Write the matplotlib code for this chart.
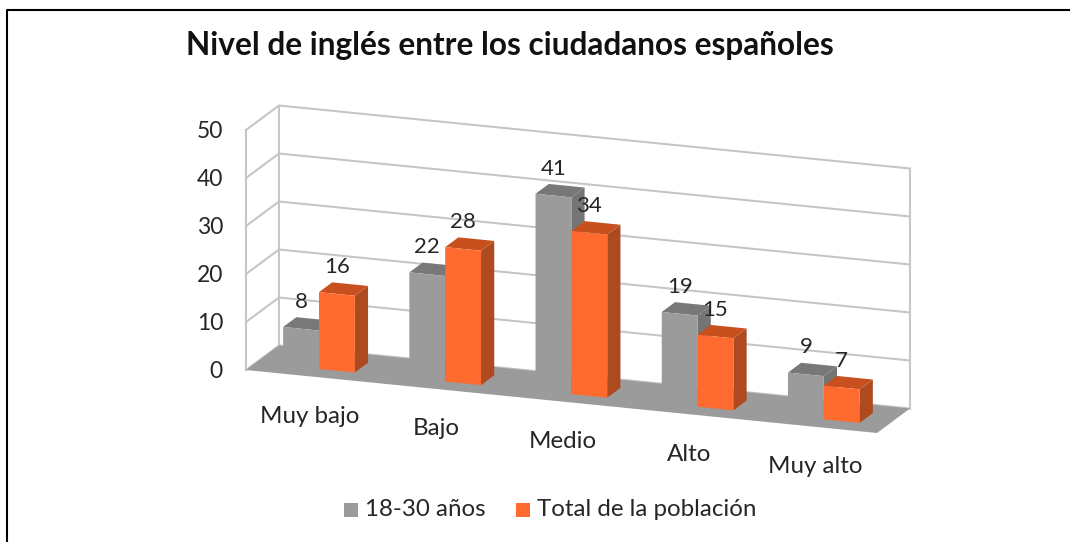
"""Nivel de ingles: fake 3D column chart, drawn on a flat axes in pixel space."""
import matplotlib.pyplot as plt
from matplotlib.patches import Polygon

categories = ["Muy bajo", "Bajo", "Medio", "Alto", "Muy alto"]
jovenes = [8, 22, 41, 19, 9]
total = [16, 28, 34, 15, 7]
y_ticks = [0, 10, 20, 30, 40, 50]
series_names = ["18-30 años", "Total de la población"]

# projection of the chart box onto the picture
ORIGIN = (246, 370)
STEP = (126.2, 12.6)   # one category along the floor
DEPTH = (33, -24.5)    # front to back of the floor
UNIT = 4.8             # pixels per value

BAR_W = 0.284
D0, D1 = 0.3, 0.7

GRID = "#c6c6c6"
GRAY = dict(front="#9b9b9b", top="#787878", side="#757575")
ORANGE = dict(front="#ff6a2e", top="#c8501f", side="#ad4a20")
TEXT = "#262626"
FONT = "Lato"


def project(u, v=0, d=0):
    x = ORIGIN[0] + u * STEP[0] + d * DEPTH[0]
    y = ORIGIN[1] + u * STEP[1] + d * DEPTH[1] - v * UNIT
    return x, y


def draw_bar(ax, u0, value, colors):
    u1 = u0 + BAR_W
    side = [project(u1, 0, D0), project(u1, 0, D1), project(u1, value, D1), project(u1, value, D0)]
    top = [project(u0, value, D0), project(u1, value, D0), project(u1, value, D1), project(u0, value, D1)]
    front = [project(u0, 0, D0), project(u1, 0, D0), project(u1, value, D0), project(u0, value, D0)]
    ax.add_patch(Polygon(side, facecolor=colors["side"], edgecolor="none", zorder=3))
    ax.add_patch(Polygon(top, facecolor=colors["top"], edgecolor="none", zorder=3))
    ax.add_patch(Polygon(front, facecolor=colors["front"], edgecolor="none", zorder=3))


fig = plt.figure(figsize=(10.7, 5.42), dpi=100)
ax = fig.add_axes([0, 0, 1, 1])
ax.set_xlim(0, 1070)
ax.set_ylim(542, 0)
ax.axis("off")

# picture frame
ax.plot([7, 7, 1070], [542, 10, 10], color="black", lw=1.5)

# walls
n = len(categories)
top = y_ticks[-1]
for v in y_ticks:
    pts = [project(0, v, 0), project(0, v, 1), project(n, v, 1)]
    ax.plot(*zip(*pts), color=GRID, lw=1.5, zorder=1)
    ax.text(223, project(0, v, 0)[1] + 2, str(v), fontsize=16.5, family=FONT, color=TEXT,
            ha="right", va="center")
for u, d in [(0, 0), (0, 1), (n, 1)]:
    ax.plot(*zip(project(u, 0, d), project(u, top, d)), color=GRID, lw=1.5, zorder=1)

# floor
floor = [project(0), project(n), project(n, 0, 1), project(0, 0, 1)]
ax.add_patch(Polygon(floor, facecolor=GRAY["front"], edgecolor="none", zorder=2))

# columns
for i, (a, b) in enumerate(zip(jovenes, total)):
    draw_bar(ax, i + 0.5 - BAR_W, a, GRAY)
    draw_bar(ax, i + 0.5, b, ORANGE)
for i, (a, b) in enumerate(zip(jovenes, total)):
    for u0, value in [(i + 0.5 - BAR_W, a), (i + 0.5, b)]:
        x, y = project(u0 + BAR_W / 2, value, D0)
        ax.text(x, y - 27, str(value), fontsize=16, family=FONT, color=TEXT, ha="center", va="center")
    x, y = project(i + 0.5)
    ax.text(x + 1, y + 40, categories[i], fontsize=17.4, family=FONT, color=TEXT, ha="center", va="center")

ax.text(510, 46, "Nivel de inglés entre los ciudadanos españoles", fontsize=22.8, family=FONT,
        fontweight="bold", color="#111111", ha="center", va="center")

# legend
for x0, x1, name, color in [(344, 365, series_names[0], GRAY["front"]), (516, 537, series_names[1], ORANGE["front"])]:
    ax.add_patch(Polygon([(x0, 503), (x0 + 14, 503), (x0 + 14, 517), (x0, 517)], facecolor=color, edgecolor="none"))
    ax.text(x1, 510, name, fontsize=17.4, family=FONT, color=TEXT, ha="left", va="center")

fig.savefig("out.png", dpi=100)
